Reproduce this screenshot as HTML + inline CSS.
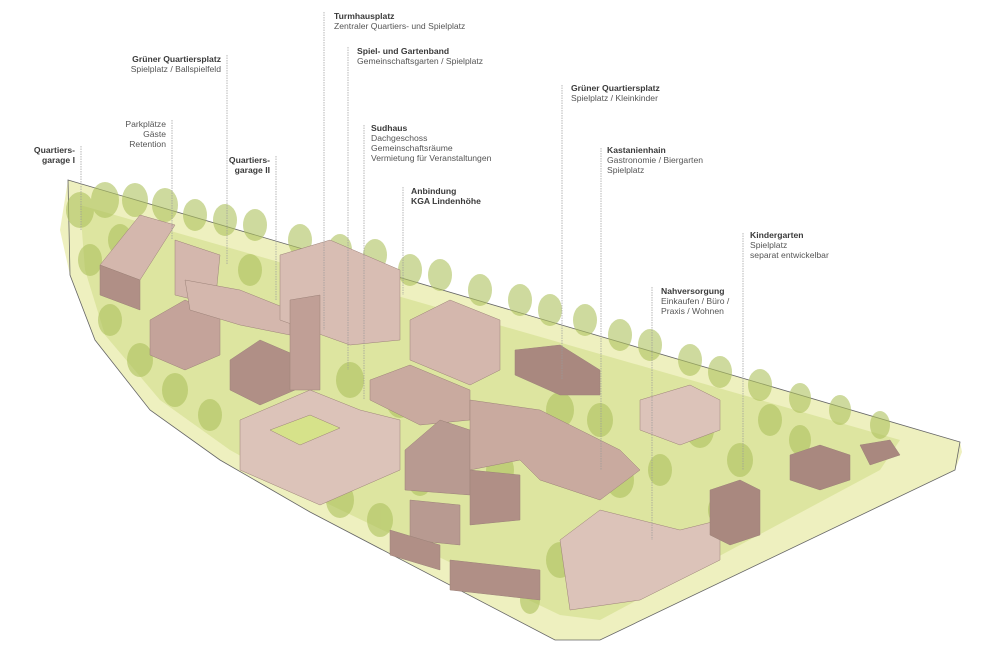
<!DOCTYPE html>
<html><head><meta charset="utf-8"><style>
html,body{margin:0;padding:0;background:#fff;}
svg{display:block}
text{font-family:"Liberation Sans",sans-serif;font-size:8.6px;fill:#555;}
.b{font-weight:bold;fill:#3a3a3a}
</style></head><body>
<svg width="1000" height="647" viewBox="0 0 1000 647" xmlns="http://www.w3.org/2000/svg">
<polygon points="68,180 960,442 962,452 955,470 600,640 555,640 310,512 220,460 150,410 95,340 70,275 60,230" fill="#eef0bf"/>
<polygon points="68,180 960,442 955,470 600,640 555,640 310,512 220,460 150,410 95,340 70,275" fill="none" stroke="#666" stroke-width="0.8"/>
<polygon points="80,205 900,440 880,470 600,620 560,615 320,500 230,450 160,400 105,335 85,270" fill="#d9e39a" opacity="0.85"/>
<g fill="#aec25e" opacity="0.6">
<ellipse cx="80" cy="210" rx="14" ry="18"/><ellipse cx="105" cy="200" rx="14" ry="18"/><ellipse cx="135" cy="200" rx="13" ry="17"/><ellipse cx="165" cy="205" rx="13" ry="17"/><ellipse cx="195" cy="215" rx="12" ry="16"/><ellipse cx="225" cy="220" rx="12" ry="16"/><ellipse cx="255" cy="225" rx="12" ry="16"/><ellipse cx="300" cy="240" rx="12" ry="16"/><ellipse cx="340" cy="250" rx="12" ry="16"/><ellipse cx="375" cy="255" rx="12" ry="16"/><ellipse cx="410" cy="270" rx="12" ry="16"/><ellipse cx="440" cy="275" rx="12" ry="16"/><ellipse cx="480" cy="290" rx="12" ry="16"/><ellipse cx="520" cy="300" rx="12" ry="16"/><ellipse cx="550" cy="310" rx="12" ry="16"/><ellipse cx="585" cy="320" rx="12" ry="16"/><ellipse cx="620" cy="335" rx="12" ry="16"/><ellipse cx="650" cy="345" rx="12" ry="16"/><ellipse cx="690" cy="360" rx="12" ry="16"/><ellipse cx="720" cy="372" rx="12" ry="16"/><ellipse cx="760" cy="385" rx="12" ry="16"/><ellipse cx="800" cy="398" rx="11" ry="15"/><ellipse cx="840" cy="410" rx="11" ry="15"/><ellipse cx="880" cy="425" rx="10" ry="14"/>
<ellipse cx="90" cy="260" rx="12" ry="16"/><ellipse cx="110" cy="320" rx="12" ry="16"/><ellipse cx="140" cy="360" rx="13" ry="17"/><ellipse cx="175" cy="390" rx="13" ry="17"/><ellipse cx="210" cy="415" rx="12" ry="16"/><ellipse cx="350" cy="380" rx="14" ry="18"/><ellipse cx="400" cy="400" rx="14" ry="18"/><ellipse cx="340" cy="500" rx="14" ry="18"/><ellipse cx="380" cy="520" rx="13" ry="17"/><ellipse cx="420" cy="480" rx="12" ry="16"/><ellipse cx="500" cy="470" rx="14" ry="18"/><ellipse cx="560" cy="410" rx="14" ry="18"/><ellipse cx="600" cy="420" rx="13" ry="17"/><ellipse cx="620" cy="480" rx="14" ry="18"/><ellipse cx="560" cy="560" rx="14" ry="18"/><ellipse cx="700" cy="430" rx="14" ry="18"/><ellipse cx="740" cy="460" rx="13" ry="17"/><ellipse cx="770" cy="420" rx="12" ry="16"/><ellipse cx="720" cy="510" rx="12" ry="16"/><ellipse cx="530" cy="600" rx="10" ry="14"/>
<ellipse cx="660" cy="470" rx="12" ry="16"/><ellipse cx="800" cy="440" rx="11" ry="15"/><ellipse cx="120" cy="240" rx="12" ry="16"/><ellipse cx="250" cy="270" rx="12" ry="16"/>
</g>
<g stroke="#9c8278" stroke-width="0.5">
<polygon points="100,265 140,215 175,225 140,280" fill="#d4b7ad"/>
<polygon points="100,265 140,280 140,310 100,295" fill="#b08f86"/>
<polygon points="175,240 220,255 215,305 175,295" fill="#d4b7ad"/>
<polygon points="150,320 185,300 220,315 220,355 185,370 150,355" fill="#c4a39a"/>
<polygon points="185,280 240,290 290,310 290,335 240,325 190,310" fill="#d4b7ad"/>
<polygon points="230,360 260,340 295,355 295,390 260,405 230,390" fill="#b08f86"/>
<polygon points="280,255 330,240 400,270 400,340 350,345 280,320" fill="#d8bdb3"/>
<polygon points="290,300 320,295 320,390 290,390" fill="#c09f96"/>
<polygon points="240,420 310,390 360,410 400,420 400,470 320,505 240,470" fill="#dcc3b9"/>
<polygon points="270,430 310,415 340,428 300,445" fill="#d6e28a"/>
<polygon points="410,320 450,300 500,320 500,370 470,385 410,360" fill="#d4b7ad"/>
<polygon points="370,380 410,365 470,390 470,420 420,425 370,400" fill="#c9aa9f"/>
<polygon points="405,450 440,420 470,430 470,495 405,490" fill="#b89a91"/>
<polygon points="470,400 540,410 620,450 640,470 600,500 540,480 520,460 470,470" fill="#c9aa9f"/>
<polygon points="470,470 520,475 520,520 470,525" fill="#b08f86"/>
<polygon points="410,500 460,505 460,545 410,540" fill="#b89a91"/>
<polygon points="390,530 440,545 440,570 390,555" fill="#b08f86"/>
<polygon points="450,560 540,570 540,600 450,590" fill="#b08f86"/>
<polygon points="515,350 560,345 600,370 600,395 560,395 515,375" fill="#a9887f"/>
<polygon points="640,400 690,385 720,400 720,430 680,445 640,430" fill="#dcc3b9"/>
<polygon points="560,540 600,510 680,530 720,520 720,560 640,600 570,610" fill="#dcc3b9"/>
<polygon points="710,490 740,480 760,490 760,535 730,545 710,535" fill="#a9887f"/>
<polygon points="790,455 820,445 850,455 850,480 820,490 790,480" fill="#a9887f"/>
<polygon points="860,445 890,440 900,455 870,465" fill="#a9887f"/>
</g>
<g stroke="#999" stroke-width="0.7" stroke-dasharray="1.5,1">
<line x1="81" y1="146" x2="81" y2="230"/>
<line x1="172" y1="120" x2="172" y2="240"/>
<line x1="227" y1="55" x2="227" y2="265"/>
<line x1="276" y1="156" x2="276" y2="300"/>
<line x1="324" y1="12" x2="324" y2="330"/>
<line x1="348" y1="47" x2="348" y2="370"/>
<line x1="364" y1="125" x2="364" y2="400"/>
<line x1="403" y1="187" x2="403" y2="295"/>
<line x1="562" y1="85" x2="562" y2="380"/>
<line x1="601" y1="148" x2="601" y2="470"/>
<line x1="652" y1="287" x2="652" y2="540"/>
<line x1="743" y1="233" x2="743" y2="470"/>
</g>
<text x="75" y="153" text-anchor="end" class="b">Quartiers-</text>
<text x="75" y="163" text-anchor="end" class="b">garage I</text>
<text x="166" y="127" text-anchor="end">Parkplätze</text>
<text x="166" y="137" text-anchor="end">Gäste</text>
<text x="166" y="147" text-anchor="end">Retention</text>
<text x="221" y="62" text-anchor="end" class="b">Grüner Quartiersplatz</text>
<text x="221" y="72" text-anchor="end">Spielplatz / Ballspielfeld</text>
<text x="270" y="163" text-anchor="end" class="b">Quartiers-</text>
<text x="270" y="173" text-anchor="end" class="b">garage II</text>
<text x="334" y="19" class="b">Turmhausplatz</text>
<text x="334" y="29">Zentraler Quartiers- und Spielplatz</text>
<text x="357" y="54" class="b">Spiel- und Gartenband</text>
<text x="357" y="64">Gemeinschaftsgarten / Spielplatz</text>
<text x="371" y="131" class="b">Sudhaus</text>
<text x="371" y="141">Dachgeschoss</text>
<text x="371" y="151">Gemeinschaftsräume</text>
<text x="371" y="161">Vermietung für Veranstaltungen</text>
<text x="411" y="194" class="b">Anbindung</text>
<text x="411" y="204" class="b">KGA Lindenhöhe</text>
<text x="571" y="91" class="b">Grüner Quartiersplatz</text>
<text x="571" y="101">Spielplatz / Kleinkinder</text>
<text x="607" y="153" class="b">Kastanienhain</text>
<text x="607" y="163">Gastronomie  / Biergarten</text>
<text x="607" y="173">Spielplatz</text>
<text x="661" y="294" class="b">Nahversorgung</text>
<text x="661" y="304">Einkaufen / Büro /</text>
<text x="661" y="314">Praxis / Wohnen</text>
<text x="750" y="238" class="b">Kindergarten</text>
<text x="750" y="248">Spielplatz</text>
<text x="750" y="258">separat entwickelbar</text>
</svg>
</body></html>
